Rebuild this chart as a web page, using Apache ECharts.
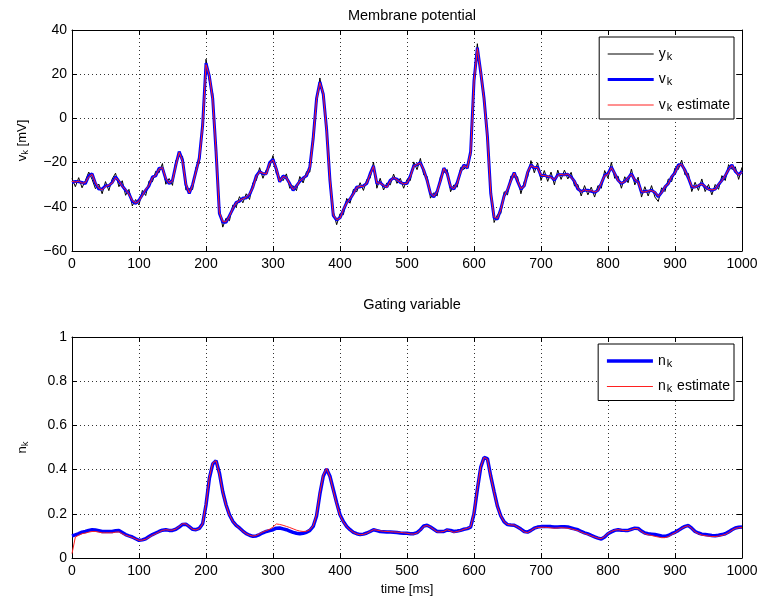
<!DOCTYPE html>
<html>
<head>
<meta charset="utf-8">
<title>Membrane potential and gating variable</title>
<script src="https://cdn.jsdelivr.net/npm/echarts@6/dist/echarts.min.js"></script>
<style>
  html, body { margin: 0; padding: 0; background: #fff; }
  #chart { width: 761px; height: 600px; }
</style>
</head>
<body>
<div id="chart"></div>
<script>
// Samples every 5 ms from 0 to 1000 ms
const SAMPLE_STEP_MS = 5;

// Noisy voltage measurement y_k [mV]
const yMeasured = [
  -27.2, -30.9, -26.8, -31.4, -28.1, -24.3, -27.6, -31.8, -29.7, -34.1,
  -28.6, -32.7, -27.4, -24.8, -30.9, -28.2, -34.8, -32.1, -39.6, -36.7,
  -39.2, -32.6, -34.9, -28.3, -28.7, -23.9, -24.6, -20.4, -29.8, -27.2,
  -30.3, -19.1, -16.9, -17.2, -32.4, -31.8, -32.2, -22.1, -20.3, -1.2,
  26.8, 17.1, 11.2, -17.3, -41.1, -49.2, -45.1, -46.3, -39.2, -40.1,
  -35.4, -38.2, -34.1, -36.7, -29.1, -28.2, -22.3, -27.1, -23.2, -22.1,
  -16.8, -25.1, -26.6, -28.2, -25.1, -31.6, -30.4, -32.7, -26.3, -29.2,
  -24.1, -24.3, -7.1, 7.2, 18.3, 9.1, -3.2, -30.1, -42.2, -48.1,
  -43.1, -43.6, -36.2, -38.4, -32.1, -33.2, -29.1, -32.6, -27.6, -27.1,
  -19.8, -31.6, -27.1, -32.4, -29.2, -30.1, -25.2, -29.4, -27.1, -31.6,
  -27.6, -28.1, -19.7, -23.2, -18.1, -25.6, -26.2, -36.1, -33.6, -35.1,
  -26.1, -24.6, -23.1, -33.2, -30.1, -31.1, -22.2, -23.1, -20.6, -17.1,
  18.9, 33.8, 19.2, 10.9, -10.1, -32.1, -47.1, -43.6, -43.1, -33.2,
  -34.6, -26.1, -26.6, -26.4, -34.1, -28.6, -26.6, -19.1, -24.6, -20.1,
  -28.1, -23.6, -28.5, -24.3, -30.1, -23.4, -27.6, -23.4, -27.4, -24.4,
  -30.6, -29.9, -35.1, -30.4, -34.6, -31.1, -35.6, -30.4, -31.6, -23.6,
  -27.1, -19.9, -27.1, -26.1, -31.6, -26.4, -29.1, -22.9, -30.1, -26.6,
  -35.6, -30.9, -35.1, -30.4, -35.6, -37.6, -31.4, -33.1, -27.4, -28.6,
  -22.4, -23.1, -18.9, -25.6, -24.9, -33.1, -28.9, -32.6, -27.4, -33.1,
  -29.9, -34.6, -29.9, -32.1, -25.9, -28.1, -20.9, -23.1, -21.9, -27.6,
  -22.1
];

// True membrane potential v_k [mV]
const vTrue = [
  -29, -28.5, -28.7, -29, -29.5, -26, -25, -29.5, -32, -32,
  -30.5, -30.5, -29, -26.4, -28.5, -30.5, -32.5, -34, -37.5, -38.5,
  -37, -34.5, -32.5, -30.5, -26.5, -26, -22.5, -22.5, -27.5, -29.5,
  -28, -21, -15, -19, -30, -34, -30, -24, -18, -3,
  25, 19, 9, -15, -43, -47, -47, -44, -41, -38,
  -37.5, -36, -36, -34.5, -31, -26, -24, -25, -25, -20,
  -18.5, -23, -28.7, -26, -27, -29.5, -32.5, -30.5, -28.5, -27,
  -26, -22, -9, 9, 16.5, 11, -5, -28, -44, -46,
  -45, -41.5, -38, -36.5, -34, -31, -31, -30.5, -29.5, -25,
  -21.5, -29.5, -29, -30.5, -31, -28, -27, -27.5, -29, -29.5,
  -29.5, -26, -21.5, -21, -20, -23.5, -28, -34, -35.5, -33,
  -28, -22.5, -25, -31, -32, -29, -24, -21, -22.5, -15,
  17, 32, 21, 9, -8, -34, -45, -45.5, -41, -35,
  -32.5, -28, -24.5, -28.5, -32, -30.5, -24.5, -21, -22.5, -22,
  -26, -25.7, -26.4, -26.4, -28, -25.5, -25.5, -25.5, -25.3, -26.5,
  -28.5, -32, -33, -32.5, -32.5, -33, -33.5, -32.5, -29.5, -25.7,
  -25, -22, -25, -28, -29.5, -28.5, -27, -25, -28, -28.7,
  -33.5, -33, -33, -32.5, -33.5, -35.5, -33.5, -31, -29.5, -26.5,
  -24.5, -21, -21, -23.5, -27, -31, -31, -30.5, -29.5, -31,
  -32, -32.5, -32, -30, -28, -26, -23, -21, -24, -25.5,
  -24
];

// Filter estimate of v_k [mV]
const vEstimate = [
  -28.5, -28.8, -28.4, -29.3, -29.1, -26.4, -25.3, -29.2, -31.6, -32.3,
  -30.8, -30.2, -29.3, -26.8, -28.2, -30.7, -32.2, -34.3, -37.2, -38.3,
  -37.3, -34.8, -32.2, -30.3, -26.8, -25.8, -22.8, -22.3, -27.2, -29.3,
  -28.3, -21.3, -15.4, -19.2, -29.7, -33.7, -30.3, -24.2, -18.3, -3.5,
  24.3, 19.4, 8.6, -14.6, -42.6, -46.7, -46.8, -44.2, -40.8, -38.2,
  -37.2, -36.3, -35.8, -34.2, -31.3, -26.3, -24.2, -24.8, -25.2, -20.3,
  -18.8, -22.8, -28.4, -26.3, -26.8, -29.7, -32.2, -30.7, -28.3, -27.2,
  -25.8, -22.3, -9.4, 8.6, 16.1, 11.3, -5.4, -27.6, -43.7, -45.8,
  -45.2, -41.2, -38.3, -36.3, -34.2, -31.2, -30.8, -30.7, -29.3, -25.3,
  -21.7, -29.2, -29.3, -30.3, -31.2, -28.3, -26.8, -27.7, -28.8, -29.7,
  -29.3, -26.3, -21.7, -20.8, -20.3, -23.3, -28.2, -33.7, -35.3, -33.2,
  -28.3, -22.7, -25.2, -30.8, -31.8, -29.3, -24.2, -21.3, -22.3, -15.4,
  16.4, 31.6, 21.3, 8.7, -8.4, -33.6, -44.7, -45.2, -41.3, -35.2,
  -32.2, -28.3, -24.7, -28.2, -31.8, -30.7, -24.2, -21.3, -22.2, -22.3,
  -25.7, -25.9, -26.2, -26.7, -27.7, -25.8, -25.3, -25.7, -25.1, -26.8,
  -28.3, -31.7, -33.2, -32.3, -32.8, -32.7, -33.3, -32.7, -29.2, -25.9,
  -25.3, -22.3, -24.8, -28.2, -29.3, -28.7, -26.8, -25.3, -27.8, -28.9,
  -33.2, -33.3, -32.8, -32.7, -33.3, -35.2, -33.7, -30.8, -29.7, -26.3,
  -24.8, -21.3, -20.8, -23.7, -26.8, -30.8, -31.2, -30.3, -29.7, -30.8,
  -32.2, -32.3, -32.2, -29.8, -28.2, -25.8, -23.2, -21.3, -23.8, -25.7,
  -24.2
];

// True gating variable n_k
const nTrue = [
  0.10, 0.105, 0.11, 0.117, 0.12, 0.125, 0.128, 0.127, 0.124, 0.12,
  0.12, 0.12, 0.12, 0.123, 0.124, 0.115, 0.106, 0.1, 0.095, 0.087,
  0.08, 0.082, 0.087, 0.097, 0.106, 0.113, 0.12, 0.126, 0.128, 0.125,
  0.125, 0.13, 0.14, 0.152, 0.153, 0.142, 0.13, 0.128, 0.134, 0.155,
  0.24, 0.36, 0.425, 0.44, 0.385, 0.30, 0.24, 0.195, 0.166, 0.148,
  0.136, 0.122, 0.11, 0.103, 0.098, 0.1, 0.106, 0.114, 0.12, 0.124,
  0.128, 0.135, 0.136, 0.132, 0.128, 0.122, 0.116, 0.112, 0.11, 0.112,
  0.116, 0.125, 0.143, 0.19, 0.29, 0.37, 0.403, 0.37, 0.31, 0.25,
  0.196, 0.165, 0.143, 0.128, 0.116, 0.11, 0.106, 0.108, 0.113, 0.12,
  0.128, 0.124, 0.12, 0.119, 0.118, 0.118, 0.117, 0.115, 0.113, 0.112,
  0.112, 0.11, 0.11, 0.115, 0.128, 0.145, 0.148, 0.14, 0.13, 0.12,
  0.12, 0.12, 0.127, 0.125, 0.12, 0.122, 0.125, 0.13, 0.133, 0.14,
  0.2, 0.31, 0.41, 0.455, 0.45, 0.37, 0.3, 0.234, 0.19, 0.163,
  0.151, 0.149, 0.148, 0.14, 0.131, 0.12, 0.117, 0.125, 0.135, 0.14,
  0.142, 0.143, 0.143, 0.142, 0.14, 0.14, 0.141, 0.141, 0.14, 0.136,
  0.132, 0.128, 0.12, 0.114, 0.109, 0.102, 0.096, 0.09, 0.086, 0.095,
  0.11, 0.118, 0.125, 0.128, 0.126, 0.125, 0.125, 0.13, 0.135, 0.134,
  0.122, 0.113, 0.11, 0.108, 0.106, 0.103, 0.1, 0.098, 0.102, 0.11,
  0.116, 0.125, 0.135, 0.143, 0.147, 0.135, 0.12, 0.113, 0.108, 0.106,
  0.104, 0.102, 0.101, 0.103, 0.106, 0.11, 0.118, 0.128, 0.136, 0.139,
  0.14
];

// Filter estimate of n_k
const nEstimate = [
  0.02, 0.095, 0.103, 0.11, 0.113, 0.117, 0.12, 0.12, 0.117, 0.114,
  0.114, 0.114, 0.114, 0.117, 0.118, 0.11, 0.103, 0.098, 0.093, 0.086,
  0.08, 0.081, 0.085, 0.094, 0.103, 0.11, 0.118, 0.125, 0.128, 0.126,
  0.126, 0.131, 0.142, 0.155, 0.154, 0.142, 0.13, 0.127, 0.133, 0.155,
  0.245, 0.365, 0.43, 0.44, 0.38, 0.297, 0.238, 0.195, 0.165, 0.148,
  0.135, 0.121, 0.11, 0.103, 0.099, 0.102, 0.11, 0.118, 0.124, 0.13,
  0.14, 0.154, 0.152, 0.148, 0.143, 0.138, 0.132, 0.126, 0.122, 0.12,
  0.121, 0.128, 0.146, 0.195, 0.295, 0.375, 0.405, 0.368, 0.305, 0.245,
  0.193, 0.163, 0.142, 0.127, 0.116, 0.109, 0.105, 0.107, 0.112, 0.12,
  0.128, 0.126, 0.123, 0.121, 0.12, 0.119, 0.118, 0.117, 0.116, 0.114,
  0.112, 0.109, 0.108, 0.113, 0.126, 0.143, 0.147, 0.14, 0.129, 0.118,
  0.118, 0.12, 0.128, 0.122, 0.116, 0.12, 0.124, 0.13, 0.134, 0.141,
  0.205, 0.315, 0.412, 0.455, 0.447, 0.368, 0.297, 0.232, 0.19, 0.164,
  0.152, 0.15, 0.149, 0.14, 0.13, 0.118, 0.115, 0.124, 0.134, 0.138,
  0.139, 0.139, 0.138, 0.136, 0.135, 0.136, 0.137, 0.136, 0.135, 0.132,
  0.128, 0.124, 0.117, 0.111, 0.106, 0.1, 0.095, 0.09, 0.088, 0.097,
  0.111, 0.12, 0.126, 0.128, 0.126, 0.124, 0.124, 0.129, 0.134, 0.132,
  0.12, 0.11, 0.105, 0.102, 0.098, 0.095, 0.092, 0.092, 0.097, 0.106,
  0.114, 0.124, 0.134, 0.142, 0.146, 0.134, 0.118, 0.11, 0.104, 0.101,
  0.099, 0.097, 0.097, 0.099, 0.102, 0.107, 0.115, 0.126, 0.134, 0.137,
  0.138
];

const FONT = '"Liberation Sans", Arial, Helvetica, sans-serif';

function withTime(values) {
  return values.map((v, i) => [i * SAMPLE_STEP_MS, v]);
}

// Names carrying a subscript k, rendered with rich text
function subLabel(name) {
  const m = name.match(/^(\w)_k(.*)$/);
  if (!m) return name;
  return '{b|' + m[1] + '}{s|k}' + (m[2] ? '{b|' + m[2] + '}' : '');
}

function richFor(size, subSize, subPadX) {
  return {
    b: { fontSize: size, fontFamily: FONT, color: '#000', lineHeight: 16 },
    s: { fontSize: subSize, fontFamily: FONT, color: '#000', lineHeight: 16, verticalAlign: 'bottom',
         padding: [8, subPadX, 0, subPadX] }
  };
}

const minus = (v) => String(v).replace('-', '\u2212');
const plain = (v) => String(v);

const tickStyle = { show: true, inside: true, length: 5, lineStyle: { color: '#000', width: 1 } };
const axisLineStyle = { show: true, onZero: false, lineStyle: { color: '#000', width: 1 } };
const gridLine = { show: true, lineStyle: { color: '#333', width: 1, type: [1, 3] } };
const labelStyle = { color: '#000', fontSize: 14, fontFamily: FONT };

function xAxisMain(gridIndex, withName) {
  return {
    type: 'value', gridIndex, min: 0, max: 1000, interval: 100, position: 'bottom',
    axisLine: axisLineStyle, axisTick: tickStyle, splitLine: gridLine,
    axisLabel: Object.assign({ margin: 6, formatter: plain }, labelStyle),
    name: withName ? 'time [ms]' : '', nameLocation: 'middle', nameGap: 25,
    nameTextStyle: { color: '#000', fontSize: 13, fontFamily: FONT }
  };
}
function xAxisMirror(gridIndex) {
  return {
    type: 'value', gridIndex, min: 0, max: 1000, interval: 100, position: 'top',
    axisLine: axisLineStyle, axisTick: tickStyle, splitLine: { show: false }, axisLabel: { show: false }
  };
}
function yAxisMain(gridIndex, min, max, interval, nameRich, fmt) {
  return {
    type: 'value', gridIndex, min, max, interval, position: 'left',
    axisLine: axisLineStyle, axisTick: tickStyle, splitLine: gridLine,
    axisLabel: Object.assign({ margin: 5, formatter: fmt }, labelStyle),
    name: nameRich, nameLocation: 'middle', nameRotate: 90, nameGap: 42,
    nameTextStyle: { rich: richFor(13, 9.5, 0) }
  };
}
function yAxisMirror(gridIndex, min, max, interval) {
  return {
    type: 'value', gridIndex, min, max, interval, position: 'right',
    axisLine: axisLineStyle, axisTick: tickStyle, splitLine: { show: false }, axisLabel: { show: false }
  };
}

function legendFor(top, names) {
  return {
    orient: 'vertical', right: 27, top: top,
    backgroundColor: '#fff', borderColor: '#000', borderWidth: 1,
    padding: [6, 4, 6, 7], itemGap: 6.5, itemWidth: 46, itemHeight: 12,
    formatter: subLabel,
    itemStyle: { opacity: 0 },
    lineStyle: { width: 'inherit' },
    textStyle: { color: '#000', fontSize: 14, fontFamily: FONT, rich: richFor(14, 11, 1) },
    data: names
  };
}

const chart = echarts.init(document.getElementById('chart'), null, { renderer: 'canvas' });

chart.setOption({
  animation: false,
  backgroundColor: '#fff',
  title: [
    { text: 'Membrane potential', left: 407, top: 3, textAlign: 'center',
      textStyle: { fontSize: 14.5, fontWeight: 'normal', color: '#000', fontFamily: FONT } },
    { text: 'Gating variable', left: 407, top: 292, textAlign: 'center',
      textStyle: { fontSize: 14.5, fontWeight: 'normal', color: '#000', fontFamily: FONT } }
  ],
  grid: [
    { left: 72, right: 19, top: 30, height: 221, show: false },
    { left: 72, right: 19, top: 337, height: 221, show: false }
  ],
  xAxis: [xAxisMain(0, false), xAxisMirror(0), xAxisMain(1, true), xAxisMirror(1)],
  yAxis: [
    yAxisMain(0, -60, 40, 20, '{b|v}{s|k}{b| [mV]}', minus),
    yAxisMirror(0, -60, 40, 20),
    yAxisMain(1, 0, 1, 0.2, '{b|n}{s|k}', plain),
    yAxisMirror(1, 0, 1, 0.2)
  ],
  legend: [
    legendFor(37, ['y_k', 'v_k', 'v_k estimate']),
    legendFor(344, ['n_k', 'n_k estimate'])
  ],
  series: [
    { name: 'y_k', type: 'line', xAxisIndex: 0, yAxisIndex: 0, data: withTime(yMeasured),
      symbol: 'none', lineStyle: { color: '#000', width: 1 }, itemStyle: { color: '#000' } },
    { name: 'v_k', type: 'line', xAxisIndex: 0, yAxisIndex: 0, data: withTime(vTrue),
      symbol: 'none', lineStyle: { color: '#0000ff', width: 3 }, itemStyle: { color: '#0000ff' } },
    { name: 'v_k estimate', type: 'line', xAxisIndex: 0, yAxisIndex: 0, data: withTime(vEstimate),
      symbol: 'none', lineStyle: { color: '#ff2020', width: 1 }, itemStyle: { color: '#ff2020' } },
    { name: 'n_k', type: 'line', xAxisIndex: 2, yAxisIndex: 2, data: withTime(nTrue),
      symbol: 'none', lineStyle: { color: '#0000ff', width: 3.5 }, itemStyle: { color: '#0000ff' } },
    { name: 'n_k estimate', type: 'line', xAxisIndex: 2, yAxisIndex: 2, data: withTime(nEstimate),
      symbol: 'none', lineStyle: { color: '#ff2020', width: 1 }, itemStyle: { color: '#ff2020' } }
  ]
});
</script>
</body>
</html>
